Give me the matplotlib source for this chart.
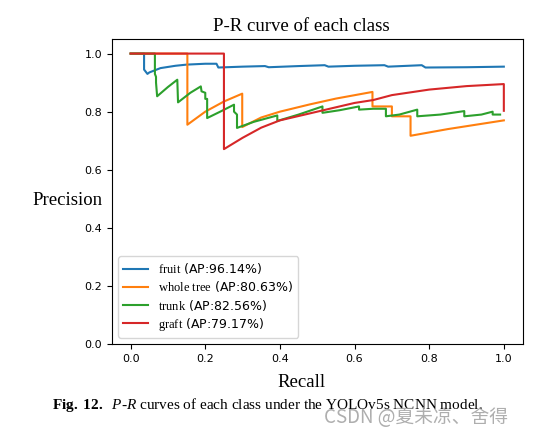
import matplotlib
matplotlib.use("Agg")
import matplotlib.pyplot as plt

plt.rcParams["mathtext.fontset"] = "custom"
plt.rcParams["mathtext.rm"] = "Liberation Serif"
plt.rcParams["mathtext.it"] = "Liberation Serif:italic"
plt.rcParams["mathtext.bf"] = "Liberation Serif:bold"

# P-R points (steps drawn as repeated recall values)
fruit_r = [0, 0.036, 0.036, 0.045, 0.05, 0.08, 0.12, 0.15, 0.2, 0.23, 0.235, 0.3, 0.36, 0.37,
           0.45, 0.52, 0.53, 0.6, 0.68, 0.69, 0.78, 0.79, 0.9, 1.0]
fruit_p = [1.0, 1.0, 0.945, 0.93, 0.935, 0.95, 0.958, 0.962, 0.965, 0.965, 0.952, 0.955, 0.957, 0.953,
           0.957, 0.96, 0.955, 0.958, 0.96, 0.955, 0.96, 0.952, 0.953, 0.955]

tree_r = [0, 0.152, 0.152, 0.2, 0.25, 0.299, 0.299, 0.35, 0.4, 0.48, 0.55, 0.648, 0.648,
          0.70, 0.70, 0.75, 0.75, 0.85, 1.0]
tree_p = [1.0, 1.0, 0.755, 0.80, 0.835, 0.862, 0.747, 0.78, 0.80, 0.825, 0.845, 0.868, 0.818,
          0.818, 0.784, 0.784, 0.717, 0.74, 0.77]

trunk_r = [0, 0.065, 0.065, 0.068, 0.068, 0.071, 0.1, 0.125, 0.127, 0.16, 0.188, 0.19, 0.2, 0.2,
           0.205, 0.205, 0.24, 0.277, 0.277, 0.285, 0.285, 0.33, 0.393, 0.393, 0.45, 0.514, 0.514,
           0.56, 0.612, 0.612, 0.65, 0.684, 0.684, 0.72, 0.768, 0.768, 0.83, 0.894, 0.894, 0.94,
           0.97, 0.97, 0.99]
trunk_p = [1.0, 1.0, 0.93, 0.92, 0.90, 0.853, 0.885, 0.91, 0.832, 0.865, 0.887, 0.87, 0.865, 0.844,
           0.844, 0.778, 0.80, 0.824, 0.80, 0.79, 0.744, 0.765, 0.787, 0.768, 0.79, 0.818, 0.796,
           0.805, 0.818, 0.807, 0.81, 0.81, 0.784, 0.79, 0.807, 0.784, 0.79, 0.802, 0.784, 0.79,
           0.80, 0.79, 0.79]

graft_r = [0, 0.25, 0.25, 0.3, 0.35, 0.4, 0.45, 0.5, 0.6, 0.65, 0.7, 0.8, 0.9, 1.0, 1.0]
graft_p = [1.0, 1.0, 0.671, 0.71, 0.745, 0.77, 0.785, 0.80, 0.83, 0.84, 0.857, 0.876, 0.888, 0.895, 0.803]

labels = [r"$\mathrm{fruit}$ (AP:96.14%)",
          r"$\mathrm{whole\ tree}$ (AP:80.63%)",
          r"$\mathrm{trunk}$ (AP:82.56%)",
          r"$\mathrm{graft}$ (AP:79.17%)"]

fig = plt.figure(figsize=(5.5, 4.34), dpi=100)
ax = fig.add_axes([0.2036, 0.2074, 0.7464, 0.7026])

ax.plot(fruit_r, fruit_p, color="C0", lw=1.5, label=labels[0])
ax.plot(tree_r, tree_p, color="C1", lw=1.5, label=labels[1])
ax.plot(trunk_r, trunk_p, color="C2", lw=1.5, label=labels[2])
ax.plot(graft_r, graft_p, color="C3", lw=1.5, label=labels[3])

ax.set_xlim(-0.05, 1.05)
ax.set_ylim(0, 1.05)
ax.tick_params(labelsize=8)

ax.set_title("P-R curve of each class", family="Liberation Serif", fontsize=13.5, x=0.462)
ax.set_xlabel("Recall", family="Liberation Serif", fontsize=13.5)
ax.xaxis.set_label_coords(0.462, -0.098)
ax.set_ylabel("Precision", family="Liberation Serif", fontsize=13.5, rotation=0, va="center", ha="center")
ax.yaxis.set_label_coords(-0.109, 0.472)

ax.legend(loc="lower left", fontsize=9, labelspacing=0.25)

fig.text(0.095, 0.067,
         r"$\mathbf{Fig.\ 12.}$  $\mathit{P}$-$\mathit{R}$ curves of each class under the YOLOv5s NCNN model.",
         family="Liberation Serif", fontsize=11, va="center")
fig.text(0.59, 0.039, "CSDN @夏未凉、舍得", family=["Noto Sans CJK SC", "DejaVu Sans"],
         fontsize=13.5, color="#9a9a9a", alpha=0.8, va="center")

fig.savefig("out.png", dpi=100)
